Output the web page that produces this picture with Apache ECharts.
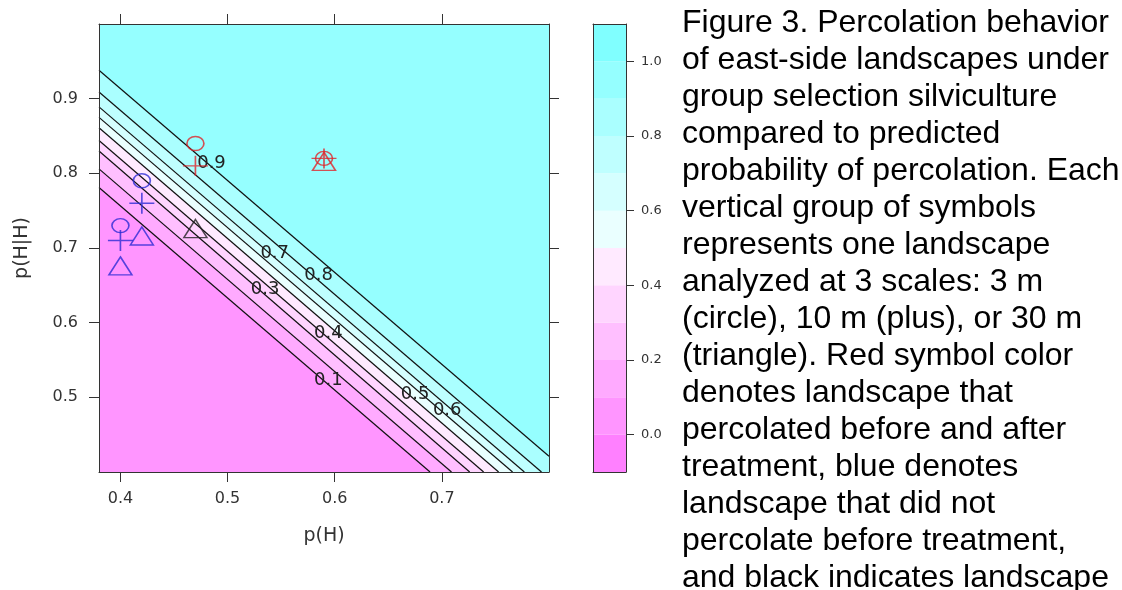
<!DOCTYPE html>
<html><head><meta charset="utf-8">
<script src="https://cdn.jsdelivr.net/npm/echarts@6/dist/echarts.min.js"></script>
<style>html,body{margin:0;padding:0;background:#fff}#c{width:1122px;height:590px}</style>
</head><body><div id="c"></div>
<script>
// ---- data ----
const xTicks = [0.4, 0.5, 0.6, 0.7];
const yTicks = [0.5, 0.6, 0.7, 0.8, 0.9];
const keyTicks = [0.0, 0.2, 0.4, 0.6, 0.8, 1.0];
const bandBreaks = [-0.1, 0.0, 0.1, 0.2, 0.3, 0.4, 0.5, 0.6, 0.7, 0.8, 0.9, 1.0, 1.1];
const bandColors = ['#ff80ff','#ff95ff','#ffaaff','#ffbfff','#ffd5ff','#ffeaff','#eaffff','#d5ffff','#bfffff','#aaffff','#95ffff','#80ffff'];
const contourLevels = [0.1, 0.2, 0.3, 0.4, 0.5, 0.6, 0.7, 0.8, 0.9];
const contourStart = [[0.38,0.781],[0.38,0.806],[0.38,0.830],[0.38,0.844],[0.38,0.861],[0.38,0.875],[0.38,0.889],[0.38,0.909],[0.38,0.938]];
const contourEnd = [[0.689,0.40],[0.709,0.40],[0.726,0.40],[0.739,0.40],[0.753,0.40],[0.766,0.40],[0.777,0.40],[0.793,0.40],[0.80,0.421]];
const contourLabelText = ['0.9','0.8','0.7','0.6','0.5','0.4','0.3','0.1'];
const contourLabelX = [0.485, 0.585, 0.544, 0.705, 0.675, 0.594, 0.535, 0.594];
const contourLabelY = [0.814, 0.664, 0.693, 0.482, 0.504, 0.586, 0.644, 0.523];
const redCircles = [[0.47,0.84],[0.59,0.82]];
const redPlus = [[0.47,0.81],[0.59,0.82]];
const redTriangles = [[0.59,0.81]];
const blueCircles = [[0.40,0.73],[0.42,0.79]];
const bluePlus = [[0.40,0.71],[0.42,0.76]];
const blueTriangles = [[0.40,0.67],[0.42,0.71]];
const blackTriangles = [[0.47,0.72]];
const captionLines = [
 'Figure 3. Percolation behavior',
 'of east-side landscapes under',
 'group selection silviculture',
 'compared to predicted',
 'probability of percolation. Each',
 'vertical group of symbols',
 'represents one landscape',
 'analyzed at 3 scales: 3 m',
 '(circle), 10 m (plus), or 30 m',
 '(triangle). Red symbol color',
 'denotes landscape that',
 'percolated before and after',
 'treatment, blue denotes',
 'landscape that did not',
 'percolate before treatment,',
 'and black indicates landscape'
];
// ---- build ----
const xMin = 0.38, xMax = 0.80, yMin = 0.40, yMax = 1.00;
const AX = '#333';
const F = 'DejaVu Sans';
const baseBand = 1; // band [0,0.1]
const fillPolys = [{pts: [[xMin,yMin],[xMax,yMin],[xMax,yMax],[xMin,yMax]], color: bandColors[baseBand]}];
contourLevels.forEach((L, k) => {
  const s = contourStart[k], e = contourEnd[k];
  const pts = [s, e];
  if (e[1] <= yMin + 1e-9) pts.push([xMax, yMin]);
  pts.push([xMax, yMax], [xMin, yMax]);
  fillPolys.push({pts, color: bandColors[bandBreaks.findIndex(b => Math.abs(b - L) < 1e-9)]});
});
const P_PLUS = 'path://M0,5L10,5M5,0L5,10';
const P_TRI = 'path://M5,0L10,10L0,10Z';
const P_CIR = 'path://M0,5A5,5 0 1,1 10,5A5,5 0 1,1 0,5Z';
function sym(data, symbol, size, color, offset) {
  return {type:'scatter', xAxisIndex:0, yAxisIndex:0, data, symbol, symbolSize:size, symbolOffset: offset || [0,0],
    itemStyle:{color:'none', borderColor:color, borderWidth:1.5}, z:6, silent:true, animation:false};
}
const RED = '#e0262a', BLUE = '#2c2cd4', BLK = '#222';
const line1 = {show:true, onZero:false, lineStyle:{color:AX, width:1}};
const tickStyle = {lineStyle:{color:AX, width:1}};
const option = {
  animation:false,
  grid:[{left:99, top:24, width:450, height:448}, {left:593, top:24, width:33, height:448}],
  xAxis:[
    {type:'value', gridIndex:0, min:xMin, max:xMax, position:'bottom', z:10,
     axisLine:line1, splitLine:{show:false},
     axisTick:{show:true, inside:false, length:10, customValues:xTicks, ...tickStyle},
     axisLabel:{show:true, customValues:xTicks, margin:19, fontFamily:F, fontSize:16, color:AX, formatter:v=>v.toFixed(1)},
     name:'p(H)', nameLocation:'middle', nameGap:55, nameTextStyle:{fontFamily:F, fontSize:19, color:AX}},
    {type:'value', gridIndex:0, min:xMin, max:xMax, position:'top', z:10,
     axisLine:line1, splitLine:{show:false},
     axisTick:{show:true, inside:false, length:10, customValues:xTicks, ...tickStyle}, axisLabel:{show:false}},
    {type:'value', gridIndex:1, min:0, max:1, position:'bottom', z:10,
     axisLine:line1, splitLine:{show:false}, axisTick:{show:false}, axisLabel:{show:false}},
    {type:'value', gridIndex:1, min:0, max:1, position:'top', z:10,
     axisLine:line1, splitLine:{show:false}, axisTick:{show:false}, axisLabel:{show:false}}
  ],
  yAxis:[
    {type:'value', gridIndex:0, min:yMin, max:yMax, position:'left', z:10,
     axisLine:line1, splitLine:{show:false},
     axisTick:{show:true, inside:false, length:10, customValues:yTicks, ...tickStyle},
     axisLabel:{show:true, customValues:yTicks, margin:21, fontFamily:F, fontSize:16, color:AX, formatter:v=>v.toFixed(1)},
     name:'p(H|H)', nameLocation:'middle', nameGap:67, nameTextStyle:{fontFamily:F, fontSize:19, color:AX}},
    {type:'value', gridIndex:0, min:yMin, max:yMax, position:'right', z:10,
     axisLine:line1, splitLine:{show:false},
     axisTick:{show:true, inside:false, length:10, customValues:yTicks, ...tickStyle}, axisLabel:{show:false}},
    {type:'value', gridIndex:1, min:-0.1, max:1.1, position:'right', z:10,
     axisLine:line1, splitLine:{show:false},
     axisTick:{show:true, inside:false, length:8, customValues:keyTicks, ...tickStyle},
     axisLabel:{show:true, customValues:keyTicks, margin:15, fontFamily:F, fontSize:13, color:AX, formatter:v=>v.toFixed(1)}},
    {type:'value', gridIndex:1, min:-0.1, max:1.1, position:'left', z:10,
     axisLine:line1, splitLine:{show:false}, axisTick:{show:false}, axisLabel:{show:false}}
  ],
  graphic: captionLines.map((t, i) => ({type:'text', x:682, y:23 + i*37, z:20,
     style:{text:t, font:'32px "Liberation Sans", Arial, sans-serif', fill:'#000', verticalAlign:'middle'}})),
  series:[
    {type:'custom', xAxisIndex:0, yAxisIndex:0, z:1, silent:true, animation:false,
     data: fillPolys.map((p, i) => [i]),
     renderItem:(params, api) => {
       const p = fillPolys[params.dataIndex];
       return {type:'polygon', shape:{points:p.pts.map(q => api.coord(q))}, style:{fill:p.color, stroke:null}};
     }},
    ...contourLevels.map((L, k) => ({type:'line', xAxisIndex:0, yAxisIndex:0, data:[contourStart[k], contourEnd[k]],
       symbol:'none', lineStyle:{color:'#111', width:1.2}, z:3, silent:true, animation:false})),
    {type:'custom', xAxisIndex:0, yAxisIndex:0, z:4, silent:true, animation:false,
     data: contourLabelText.map((t, i) => [contourLabelX[i], contourLabelY[i]]),
     renderItem:(params, api) => {
       const c = api.coord([api.value(0), api.value(1)]);
       return {type:'text', x:c[0], y:c[1], style:{text:contourLabelText[params.dataIndex], font:'18px "DejaVu Sans"', fill:'#222', align:'center', verticalAlign:'middle'}};
     }},
    sym(redCircles, P_CIR, [17,14], RED),
    sym(redPlus, P_PLUS, [25,20], RED),
    sym(redTriangles, P_TRI, [23,18], RED, [0,-4.5]),
    sym(blueCircles, P_CIR, [17,14], BLUE),
    sym(bluePlus, P_PLUS, [25,21], BLUE),
    sym(blueTriangles, P_TRI, [23,18], BLUE, [0,-4.5]),
    sym(blackTriangles, P_TRI, [23,18], BLK, [0,-4.5]),
    {type:'custom', xAxisIndex:2, yAxisIndex:2, z:1, silent:true, animation:false,
     data: bandColors.map((c, i) => [i]),
     renderItem:(params, api) => {
       const i = params.dataIndex;
       const a = api.coord([0, bandBreaks[i+1]]), b = api.coord([1, bandBreaks[i]]);
       return {type:'rect', shape:{x:a[0], y:a[1], width:b[0]-a[0], height:b[1]-a[1]}, style:{fill:bandColors[i]}};
     }}
  ]
};
echarts.init(document.getElementById('c'), null, {renderer:'canvas'}).setOption(option);
</script></body></html>
